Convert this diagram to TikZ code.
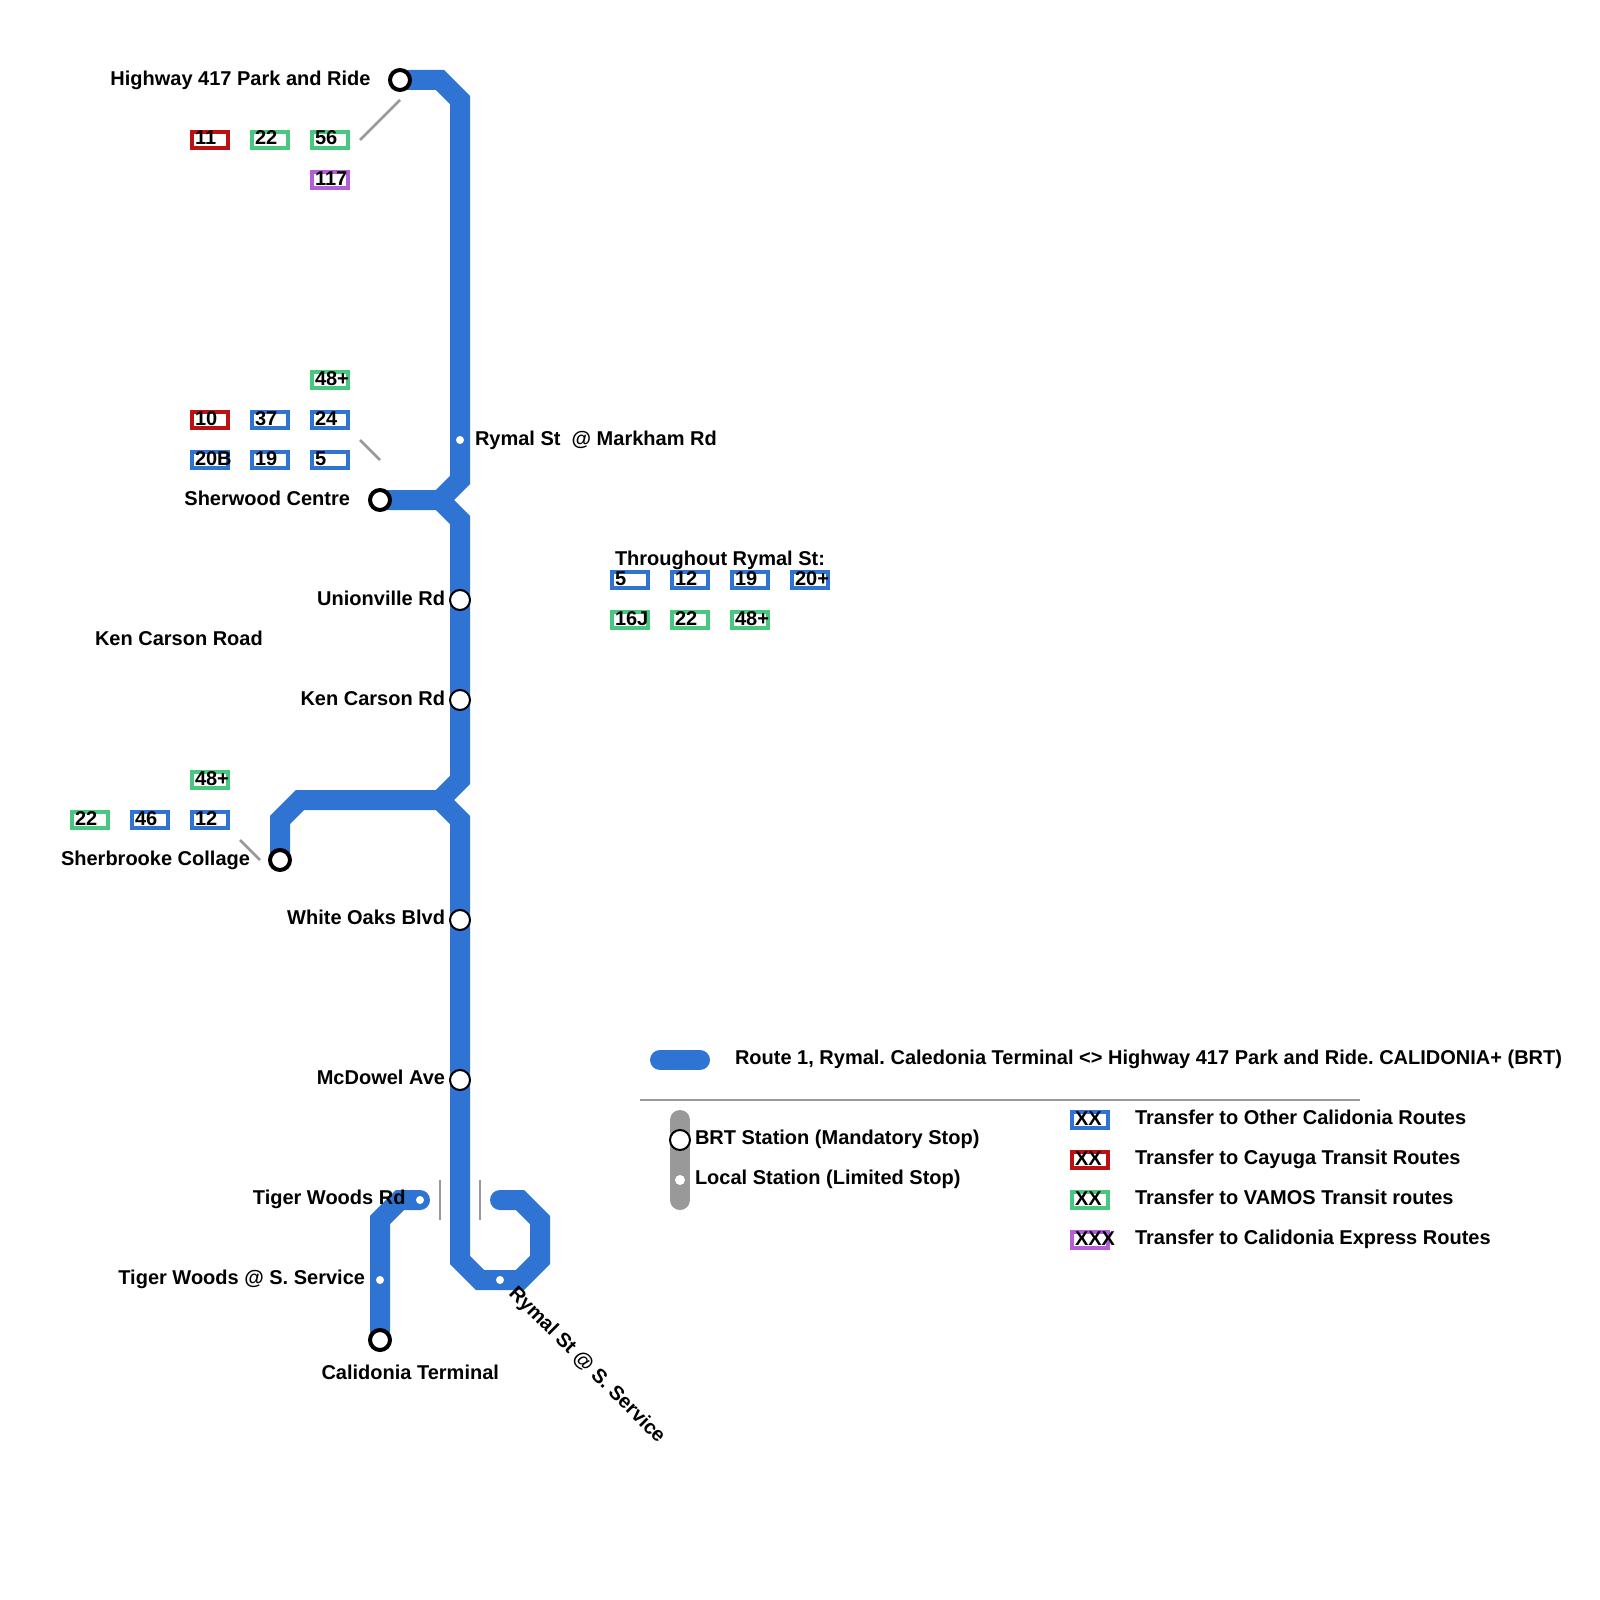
\documentclass[tikz,border=0pt]{standalone}
\usepackage{fontspec}
\setmainfont{Liberation Sans}
\frenchspacing
\definecolor{routeblue}{RGB}{47,116,210}
\definecolor{xred}{RGB}{189,16,16}
\definecolor{xgreen}{RGB}{72,200,126}
\definecolor{xpurple}{RGB}{180,95,216}
\definecolor{lgrey}{RGB}{153,153,153}
\tikzset{
  route/.style={draw=routeblue,line width=20pt,line cap=round,miter limit=10},
  legroute/.style={draw=lgrey,line width=20pt,line cap=round},
  thin rule/.style={draw=lgrey,line width=2.5pt},
  lab/.style={font=\bfseries\fontsize{20}{24}\selectfont,inner sep=0pt,outer sep=0pt,text=black},
  labL/.style={lab,anchor=base west},
  labR/.style={lab,anchor=base east},
  rbox/.style={draw=#1,line width=4pt,fill=white,minimum width=36pt,minimum height=16pt,inner sep=0pt,outer sep=0pt,anchor=north west},
  terminal/.style={circle,draw=black,fill=white,line width=4pt,minimum size=20pt,inner sep=0pt,outer sep=0pt},
  brt/.style={circle,draw=black,fill=white,line width=2pt,minimum size=20pt,inner sep=0pt,outer sep=0pt},
  localstop/.style={circle,fill=white,minimum size=8pt,inner sep=0pt,outer sep=0pt},
  legendstop/.style={circle,fill=white,minimum size=10pt,inner sep=0pt,outer sep=0pt},
}
\newcommand{\rbx}[5]{% name colour x y text
  \node[rbox=#2] (#1) at (#3+2,#4+2) {};
  \node[labL] (#1t) at (#3+5,#4+15) {#5};
}
\begin{document}
\begin{tikzpicture}[x=1pt,y=-1pt]
\useasboundingbox[fill=white] (0,0) rectangle (1600,1600);
% route geometry
\coordinate (hwy) at (400,80);
\coordinate (a1) at (440,80);
\coordinate (a2) at (460,100);
\coordinate (a3) at (460,480);
\coordinate (sherj) at (440,500);
\coordinate (sher) at (380,500);
\coordinate (a4) at (460,520);
\coordinate (a5) at (460,780);
\coordinate (colj) at (440,800);
\coordinate (b1) at (300,800);
\coordinate (b2) at (280,820);
\coordinate (coll) at (280,860);
\coordinate (a6) at (460,820);
\coordinate (a7) at (460,1260);
\coordinate (a8) at (480,1280);
\coordinate (a9) at (520,1280);
\coordinate (a10) at (540,1260);
\coordinate (a11) at (540,1220);
\coordinate (a12) at (520,1200);
\coordinate (a13) at (500,1200);
\coordinate (cal) at (380,1340);
\coordinate (c1) at (380,1220);
\coordinate (c2) at (400,1200);
\coordinate (c3) at (420,1200);
\draw[route] (hwy) -- (a1) -- (a2) -- (a3) -- (sherj) -- (sher);
\draw[route] (sherj) -- (a4) -- (a5) -- (colj) -- (b1) -- (b2) -- (coll);
\draw[route] (colj) -- (a6) -- (a7) -- (a8) -- (a9) -- (a10) -- (a11) -- (a12) -- (a13);
\draw[route] (cal) -- (c1) -- (c2) -- (c3);
% thin rules
\coordinate (g1a) at (400,100); \coordinate (g1b) at (360,140);
\coordinate (g2a) at (360,440); \coordinate (g2b) at (380,460);
\coordinate (g3a) at (240,840); \coordinate (g3b) at (260,860);
\coordinate (g4a) at (440,1180); \coordinate (g4b) at (440,1220);
\coordinate (g5a) at (480,1180); \coordinate (g5b) at (480,1220);
\coordinate (g6a) at (640,1100); \coordinate (g6b) at (1360,1100);
\draw[thin rule] (g1a) -- (g1b);
\draw[thin rule] (g2a) -- (g2b);
\draw[thin rule] (g3a) -- (g3b);
\draw[thin rule] (g4a) -- (g4b);
\draw[thin rule] (g5a) -- (g5b);
\draw[thin rule] (g6a) -- (g6b);
% stations
\node[terminal] (sHwy) at (hwy) {};
\node[terminal] (sSher) at (sher) {};
\node[terminal] (sColl) at (coll) {};
\node[terminal] (sCal) at (cal) {};
\node[brt] (sUni) at (460,600) {};
\node[brt] (sKen) at (460,700) {};
\node[brt] (sOak) at (460,920) {};
\node[brt] (sMcd) at (460,1080) {};
\node[localstop] (sMark) at (460,440) {};
\node[localstop] (sTig) at (420,1200) {};
\node[localstop] (sTigS) at (380,1280) {};
\node[localstop] (sRyS) at (500,1280) {};
% route boxes
\rbx{b11}{xred}{190}{130}{11}
\rbx{b22}{xgreen}{250}{130}{22}
\rbx{b56}{xgreen}{310}{130}{56}
\rbx{b117}{xpurple}{310}{170}{117}
\rbx{c48}{xgreen}{310}{370}{48+}
\rbx{c10}{xred}{190}{410}{10}
\rbx{c37}{routeblue}{250}{410}{37}
\rbx{c24}{routeblue}{310}{410}{24}
\rbx{c20}{routeblue}{190}{450}{20B}
\rbx{c19}{routeblue}{250}{450}{19}
\rbx{c5}{routeblue}{310}{450}{5}
\rbx{d5}{routeblue}{610}{570}{5}
\rbx{d12}{routeblue}{670}{570}{12}
\rbx{d19}{routeblue}{730}{570}{19}
\rbx{d20}{routeblue}{790}{570}{20+}
\rbx{d16}{xgreen}{610}{610}{16J}
\rbx{d22}{xgreen}{670}{610}{22}
\rbx{d48}{xgreen}{730}{610}{48+}
\rbx{e48}{xgreen}{190}{770}{48+}
\rbx{e22}{xgreen}{70}{810}{22}
\rbx{e46}{routeblue}{130}{810}{46}
\rbx{e12}{routeblue}{190}{810}{12}
% labels
\node[labR] (lHwy) at (370.5,86) {Highway 417 Park and Ride};
\node[labL] (lMark) at (475,445) {Rymal St\ \ @ Markham Rd};
\node[labR] (lSher) at (350,505) {Sherwood Centre};
\node[labR] (lUni) at (445,605) {Unionville Rd};
\node[labL] (lKenR) at (95,645) {Ken Carson Road};
\node[labR] (lKen) at (445,705) {Ken Carson Rd};
\node[labR] (lColl) at (250,865) {Sherbrooke Collage};
\node[labR] (lOak) at (445,924) {White Oaks Blvd};
\node[labR] (lMcd) at (445,1084) {McDowel Ave};
\node[labR] (lTig) at (405.5,1204) {Tiger Woods Rd};
\node[labR] (lTigS) at (365,1284) {Tiger Woods @ S. Service};
\node[labL] (lCal) at (321.5,1379) {Calidonia Terminal};
\node[labL,rotate=-45] (lRyS) at (508,1294) {Rymal St @ S. Service};
\node[labL] (lThru) at (615,565) {Throughout Rymal St:};
% legend
\coordinate (r1) at (660,1060); \coordinate (r2) at (700,1060);
\draw[route] (r1) -- (r2);
\coordinate (k1) at (680,1120); \coordinate (k2) at (680,1200);
\draw[legroute] (k1) -- (k2);
\node[brt] (kB) at (680,1140) {};
\node[legendstop] (kL) at (680,1180) {};
\node[labL] (lRoute) at (735,1064) {Route 1, Rymal. Caledonia Terminal <> Highway 417 Park and Ride. CALIDONIA+ (BRT)};
\node[labL] (lB) at (695,1144) {BRT Station (Mandatory Stop)};
\node[labL] (lL) at (695,1184) {Local Station (Limited Stop)};
\rbx{x1}{routeblue}{1070}{1110}{XX}
\rbx{x2}{xred}{1070}{1150}{XX}
\rbx{x3}{xgreen}{1070}{1190}{XX}
\rbx{x4}{xpurple}{1070}{1230}{XXX}
\node[labL] (t1) at (1135,1124) {Transfer to Other Calidonia Routes};
\node[labL] (t2) at (1135,1164) {Transfer to Cayuga Transit Routes};
\node[labL] (t3) at (1135,1204) {Transfer to VAMOS Transit routes};
\node[labL] (t4) at (1135,1244) {Transfer to Calidonia Express Routes};
\end{tikzpicture}
\end{document}
